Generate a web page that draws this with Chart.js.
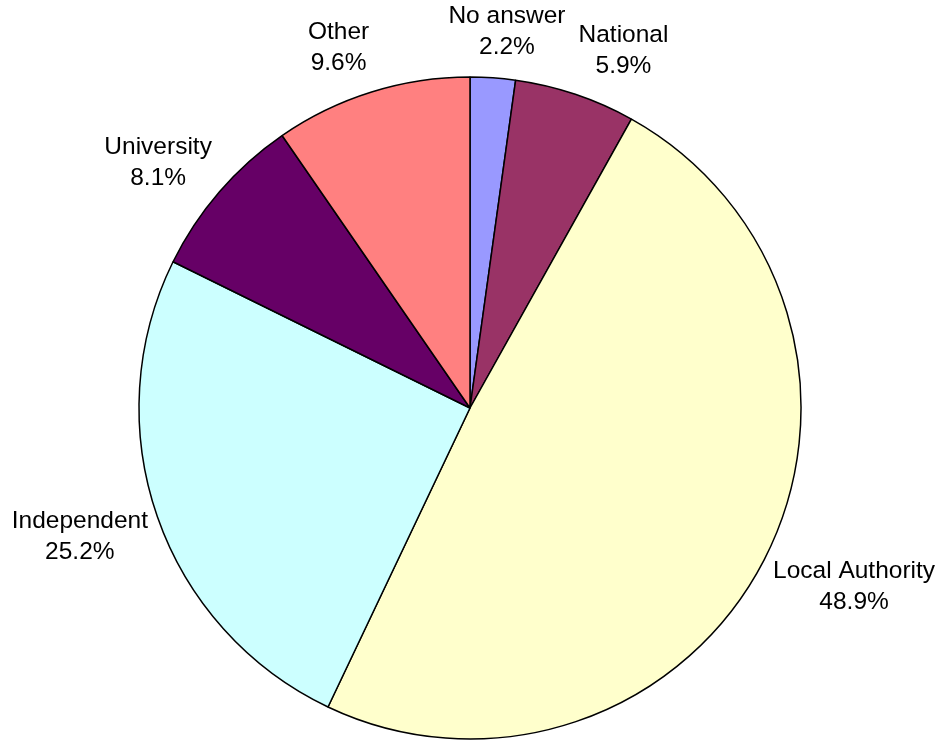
<!DOCTYPE html>
<html>
<head>
<meta charset="utf-8">
<script src="https://cdn.jsdelivr.net/npm/chart.js@4.4.0/dist/chart.umd.min.js"></script>
<style>
  body { margin: 0; background: #fff; }
  #wrap { width: 946px; height: 742px; }
</style>
</head>
<body>
<div id="wrap"><canvas id="chart" width="946" height="742"></canvas></div>
<script>
// slices go clockwise from 12 o'clock
const categories = ["No answer", "National", "Local Authority", "Independent", "University", "Other"];
const shares = [2.2, 5.9, 48.9, 25.2, 8.1, 9.6];
const sliceColors = ["#9999FF", "#993366", "#FFFFCC", "#CCFFFF", "#660066", "#FF8080"];

// labels outside the pie, Excel style
const outsideLabels = {
  id: "outsideLabels",
  afterDatasetsDraw(chart) {
    const ctx = chart.ctx;
    const meta = chart.getDatasetMeta(0);
    const fontSize = 24.5;
    const lineH = 31;
    ctx.save();
    ctx.font = fontSize + 'px "Liberation Sans", Arial, sans-serif';
    ctx.fillStyle = "#000";
    ctx.textBaseline = "middle";
    ctx.textAlign = "center";
    meta.data.forEach((arc, i) => {
      const p = arc.getProps(["x", "y", "startAngle", "endAngle", "outerRadius"], true);
      const mid = (p.startAngle + p.endAngle) / 2;
      const dx = Math.cos(mid);
      const dy = Math.sin(mid);
      const r = p.outerRadius + 10;
      const px = p.x + dx * r;
      const py = p.y + dy * r;
      const lines = [categories[i], shares[i].toFixed(1) + "%"];
      const w = Math.max(...lines.map((t) => ctx.measureText(t).width));
      const h = lines.length * lineH;

      // slide the box sideways depending on which side of the pie it sits
      const s = Math.max(-1, Math.min(1, dx * 3.3));
      const cx = px + (w / 2) * s;
      const cy = py + dy * 40 + 4;

      lines.forEach((t, k) => {
        ctx.fillText(t, cx, cy - h / 2 + lineH * k + lineH / 2);
      });
    });
    ctx.restore();
  },
};

new Chart(document.getElementById("chart"), {
  type: "pie",
  data: {
    labels: categories,
    datasets: [
      {
        data: shares,
        backgroundColor: sliceColors,
        borderColor: "#000",
        borderWidth: 1.5,
      },
    ],
  },
  options: {
    responsive: false,
    animation: false,
    radius: 331,
    layout: {
      padding: { left: 139, right: 145, top: 77, bottom: 3 },
    },
    plugins: {
      legend: { display: false },
      tooltip: { enabled: false },
    },
  },
  plugins: [outsideLabels],
});
</script>
</body>
</html>
